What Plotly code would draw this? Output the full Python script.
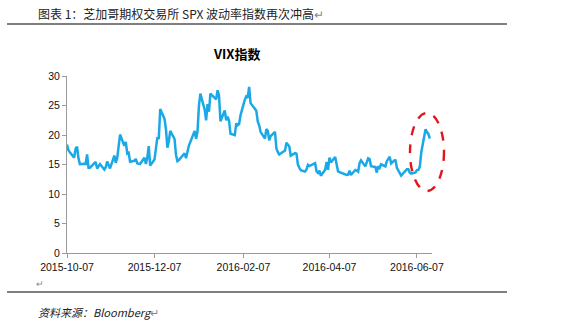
import pandas as pd
import plotly.graph_objects as go

# VIX daily closes, 2015-10-07 .. 2016-06-16 (one list per month)
vix_oct = [18.40, 17.42, 17.08, 16.17, 17.67, 18.03, 16.05, 15.05, 15.11, 15.08,
           16.70, 14.45, 14.46, 15.29, 15.43, 14.33, 14.61, 15.07]
vix_nov = [14.15, 14.54, 15.51, 15.05, 14.33, 16.52, 15.29, 16.06, 18.37, 20.08,
           18.16, 18.84, 16.85, 16.99, 15.47, 15.62, 15.93, 15.19, 15.12, 16.13]
vix_dec = [15.07, 16.17, 18.11, 14.81, 15.84, 17.60, 19.61, 19.34, 24.39, 22.73,
           20.95, 17.86, 18.94, 20.70, 19.32, 16.60, 15.57, 15.74, 16.91, 16.08,
           17.29, 18.21]
vix_jan = [20.70, 19.34, 20.59, 24.99, 27.01, 24.30, 22.47, 25.22, 23.95, 27.02,
           26.05, 27.59, 26.69, 22.34, 24.15, 22.50, 23.11, 22.42, 20.20]
vix_feb = [19.98, 21.98, 21.65, 21.84, 23.38, 26.00, 26.54, 26.29, 28.14, 25.40,
           24.11, 22.31, 21.64, 20.53, 19.38, 20.98, 20.72, 19.11, 19.81, 20.55]
vix_mar = [17.70, 17.09, 16.70, 16.86, 17.35, 18.67, 18.34, 18.05, 16.50, 16.92,
           16.84, 14.99, 14.44, 14.02, 13.79, 14.17, 14.94, 14.74, 15.24, 13.82,
           13.56, 13.95]
vix_apr = [13.10, 14.12, 15.42, 14.09, 16.16, 15.36, 16.26, 14.85, 13.84, 13.72,
           13.62, 13.35, 13.24, 13.28, 13.95, 13.22, 14.08, 13.96, 13.77, 15.22,
           15.70]
vix_may = [14.68, 15.60, 16.05, 15.91, 14.72, 14.57, 13.63, 14.69, 14.41, 15.04,
           14.68, 15.57, 15.95, 16.33, 15.20, 15.82, 14.42, 13.90, 13.43, 13.12,
           14.19]
vix_jun = [14.20, 13.63, 13.47, 13.65, 14.05, 14.08, 14.64, 17.03, 20.97, 20.50,
           20.14, 19.37]

# US market holidays inside the period
holidays = ["2015-11-26", "2015-12-25", "2016-01-01", "2016-01-18",
            "2016-02-15", "2016-03-25", "2016-05-30"]

tick_labels = ["2015-10-07", "2015-12-07", "2016-02-07", "2016-04-07", "2016-06-07"]

vix = vix_oct + vix_nov + vix_dec + vix_jan + vix_feb + vix_mar + vix_apr + vix_may + vix_jun
days = pd.bdate_range("2015-10-07", "2016-06-16")
days = days[~days.isin(pd.to_datetime(holidays))]
assert len(days) == len(vix)

W, H = 583, 332
L, R, T, B = 67, 151, 76, 79
pw, ph = W - L - R, H - T - B


def px(x):
    return (x - L) / pw


def py(y):
    return (H - B - y) / ph


fig = go.Figure()
fig.add_trace(go.Scatter(
    x=days, y=vix, mode="lines",
    line=dict(color="#1AA9E6", width=2.5),
    hoverinfo="x+y", showlegend=False,
))

axis_gray = "#9A9A9A"
fig.update_xaxes(
    type="date",
    range=["2015-10-07", "2016-06-17 12:00"],
    tickvals=tick_labels, ticktext=tick_labels,
    showgrid=False, zeroline=False,
    showline=True, linecolor=axis_gray, linewidth=1,
    ticks="outside", ticklen=4, tickcolor=axis_gray, tickwidth=1,
    tickfont=dict(family="Liberation Sans, Arial", size=10.5, color="#111"),
)
fig.update_yaxes(
    range=[0, 30], tickvals=[0, 5, 10, 15, 20, 25, 30],
    showgrid=False, zeroline=False,
    showline=True, linecolor=axis_gray, linewidth=1,
    ticks="outside", ticklen=4, tickcolor=axis_gray, tickwidth=1,
    tickfont=dict(family="Liberation Sans, Arial", size=10.5, color="#111"),
)

cjk = "Noto Sans CJK SC, Liberation Sans"
fig.update_layout(
    width=W, height=H,
    margin=dict(l=L, r=R, t=T, b=B, pad=0),
    paper_bgcolor="white", plot_bgcolor="white",
    shapes=[
        # rule under the caption and above the source note
        dict(type="line", xref="paper", yref="paper",
             x0=px(7), x1=px(507), y0=py(24), y1=py(24),
             line=dict(color="black", width=1.2)),
        dict(type="line", xref="paper", yref="paper",
             x0=px(7), x1=px(507), y0=py(292), y1=py(292),
             line=dict(color="black", width=1.2)),
        # dashed ellipse highlighting the June spike
        dict(type="circle", xref="paper", yref="paper",
             x0=px(410), x1=px(444), y0=py(191), y1=py(113),
             line=dict(color="#E0161B", width=2.4, dash="dash")),
    ],
    annotations=[
        dict(text="图表 1：芝加哥期权交易所 SPX 波动率指数再次冲高<span style='color:#888'>↵</span>",
             xref="paper", yref="paper", x=px(36), y=py(14),
             xanchor="left", yanchor="middle", showarrow=False,
             font=dict(family=cjk, size=12, color="#222")),
        dict(text="<b>VIX指数</b>",
             xref="paper", yref="paper", x=px(237), y=py(53),
             xanchor="center", yanchor="middle", showarrow=False,
             font=dict(family=cjk, size=13, color="black")),
        dict(text="↵", xref="paper", yref="paper", x=px(34), y=py(283),
             xanchor="left", yanchor="middle", showarrow=False,
             font=dict(family=cjk, size=9, color="#888")),
        dict(text="<i>资料来源：Bloomberg</i><span style='color:#888'>↵</span>",
             xref="paper", yref="paper", x=px(36), y=py(312),
             xanchor="left", yanchor="middle", showarrow=False,
             font=dict(family=cjk, size=11, color="#222")),
    ],
)

fig.write_html("out.html")
